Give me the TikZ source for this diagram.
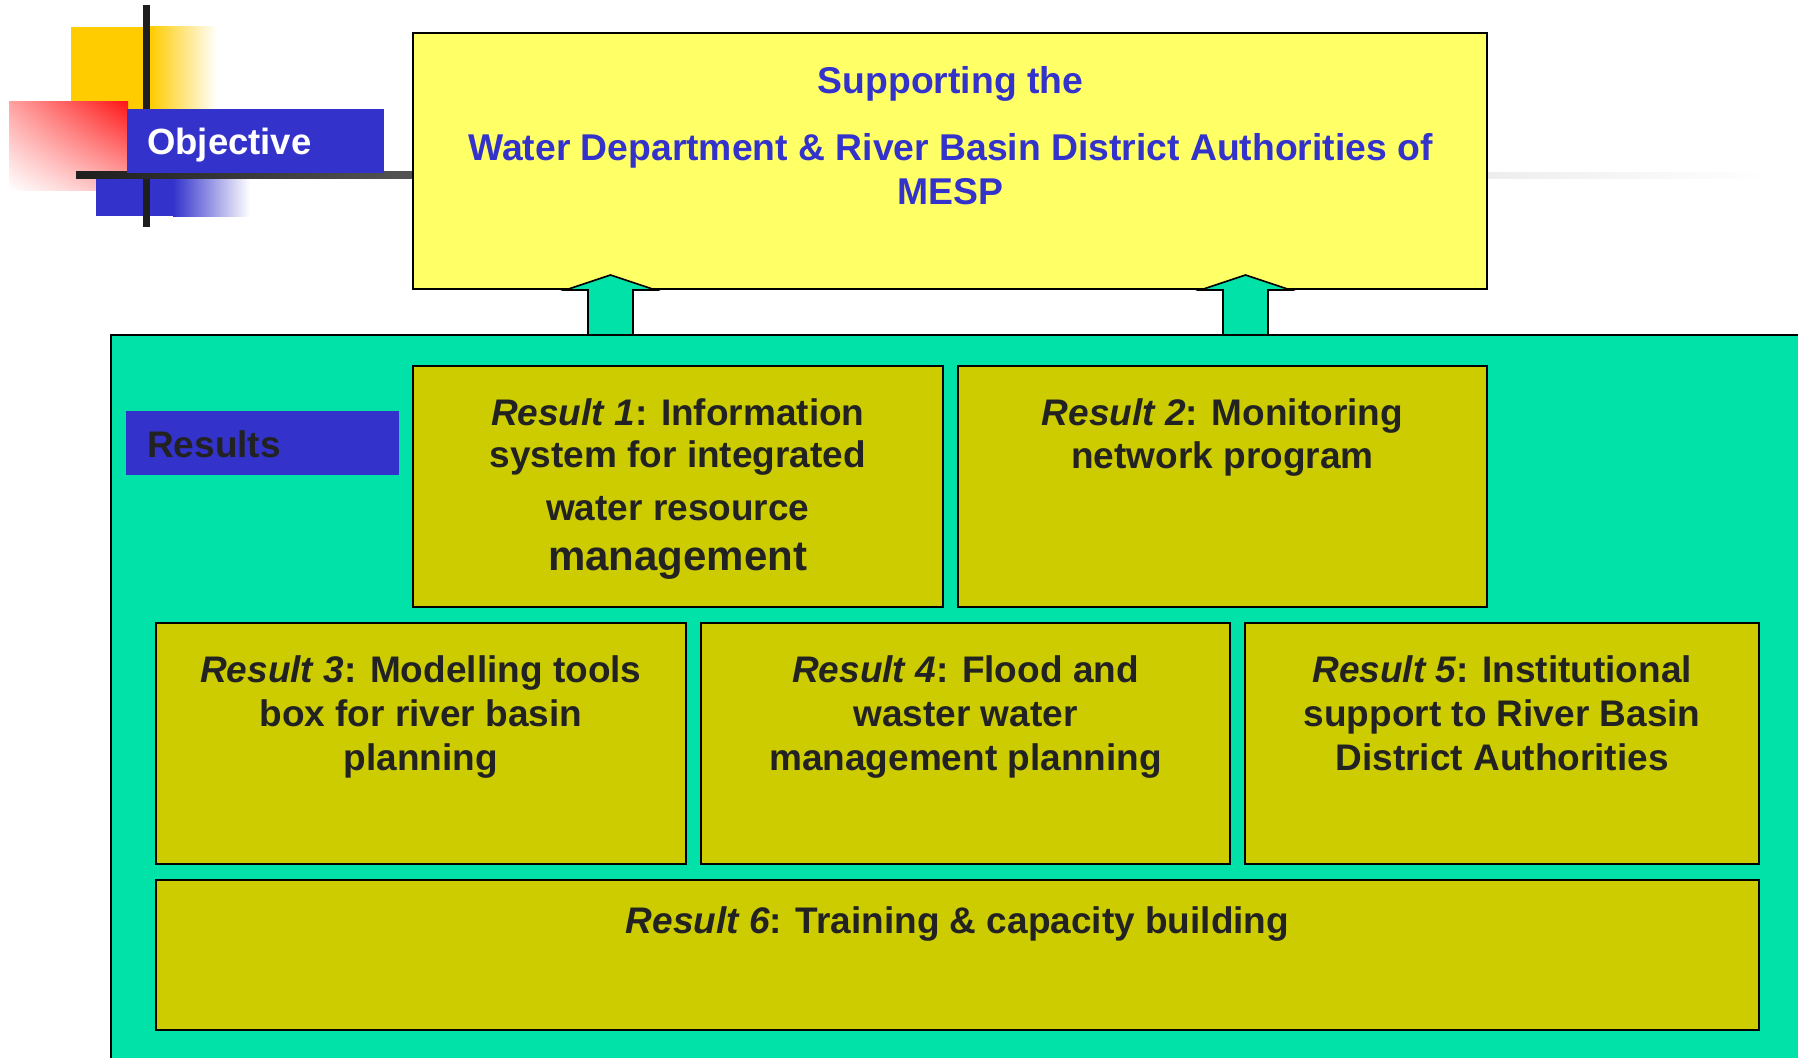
\documentclass[tikz,border=0pt]{standalone}
\usepackage{fontspec}
\setmainfont{Liberation Sans}
\usetikzlibrary{shadings}
\definecolor{tealbg}{RGB}{0,226,168}
\definecolor{olivebox}{RGB}{204,204,0}
\definecolor{paleyellow}{RGB}{255,255,102}
\definecolor{royal}{RGB}{51,51,204}
\definecolor{txtdark}{RGB}{34,34,34}
\definecolor{decoyellow}{RGB}{255,204,0}
\definecolor{decored}{RGB}{255,20,20}
\definecolor{linedark}{RGB}{30,30,30}
\newcommand{\resnum}[1]{{\itshape Result #1}}
\tikzset{
  rbox/.style={draw=black, line width=2pt, fill=olivebox, inner sep=0, outer sep=0},
  txt/.style={inner sep=0, outer sep=0, align=center, text=txtdark, font=\bfseries\fontsize{37}{44}\selectfont},
  ttl/.style={inner sep=0, outer sep=0, align=center, text=royal, font=\bfseries\fontsize{37.3}{43.5}\selectfont},
  blockarrow/.style={draw=black, line width=1.6pt, fill=tealbg, line join=miter},
}
\begin{document}
\begin{tikzpicture}[x=1pt, y=-1pt]
\useasboundingbox (0,0) rectangle (1798,1057);
\clip (0,0) rectangle (1798,1057);
\fill[white] (0,0) rectangle (1798,1057);

% decoration
\fill[decoyellow] (71,27) rectangle (150,172);
\shade[left color=decoyellow, right color=white] (150,27) rectangle (217,172);
\shade[upper right=decored, lower left=white, upper left=decored!40!white, lower right=decored!32!white] (9,101) rectangle (128,190);
\fill[royal] (96,173) rectangle (173,216);
\shade[left color=royal, right color=white] (173,173) rectangle (250,216);
\fill[linedark] (143,5) rectangle (150,227);
\shade[left color=linedark, right color=black!67] (76,171) rectangle (413,178);
\shade[left color=black!7, right color=white] (1488,172) rectangle (1770,178);
\node[fill=royal, inner sep=0, outer sep=0, minimum width=257pt, minimum height=64pt, anchor=north west] (obj) at (127,109) {};
\node[anchor=base west, inner sep=0, text=white, font=\bfseries\fontsize{36.5}{44}\selectfont] (objt) at (147,154) {Objective};

% objective box
\node[draw=black, line width=2pt, fill=paleyellow, inner sep=0, outer sep=0, minimum width=1074.3pt, minimum height=256pt] (goal) at (950.15,161.3) {};
\node[ttl, anchor=base] (goal1) at (950.5,93.5) {Supporting the};
\node[ttl, anchor=base] (goal2) at (950.5,204) {Water Department \& River Basin District Authorities of\\MESP};

% results container
\node[draw=black, line width=2pt, fill=tealbg, inner sep=0, outer sep=0, minimum width=1700pt, minimum height=740pt, anchor=north west] (res) at (111,335) {};
\node[fill=royal, inner sep=0, outer sep=0, minimum width=273pt, minimum height=64pt, anchor=north west] (reslab) at (126,411) {};
\node[anchor=base west, inner sep=0, text=txtdark, font=\bfseries\fontsize{37}{44}\selectfont] (reslabt) at (147,457) {Results};

% arrows
\coordinate (a1) at (610.5,335);
\coordinate (a2) at (1245.5,335);
\draw[blockarrow] (a1) ++(-22.5,0) -- ++(0,-45) -- ++(-22.5,0) -- ++(45,-15) -- ++(45,15) -- ++(-22.5,0) -- ++(0,45) -- cycle;
\draw[blockarrow] (a2) ++(-22.5,0) -- ++(0,-45) -- ++(-22.5,0) -- ++(45,-15) -- ++(45,15) -- ++(-22.5,0) -- ++(0,45) -- cycle;

% result boxes
\node[rbox, minimum width=529.6pt, minimum height=240.8pt] (r1) at (677.8,486.2) {};
\node[rbox, minimum width=529.8pt, minimum height=240.8pt] (r2) at (1222.4,486.2) {};
\node[rbox, minimum width=529.7pt, minimum height=240.9pt] (r3) at (420.85,743.05) {};
\node[rbox, minimum width=529.8pt, minimum height=240.9pt] (r4) at (965.5,743.05) {};
\node[rbox, minimum width=513.7pt, minimum height=240.9pt] (r5) at (1502.15,743.05) {};
\node[rbox, minimum width=1603pt, minimum height=150.2pt] (r6) at (957.5,954.6) {};

% texts (multi-line nodes: base = baseline of last line)
\node[txt, anchor=base] (r1t) at (677.8,570) {\resnum{1}: Information\\[-1.6pt]system for integrated\\[8.6pt]water resource\\[5.7pt]{\fontsize{42}{44}\selectfont management}};
\node[txt, anchor=base] (r2t) at (1222.4,468) {\resnum{2}: Monitoring\\[-1.6pt]network program};
\node[txt, anchor=base] (r3t) at (420.85,770) {\resnum{3}: Modelling tools\\box for river basin\\planning};
\node[txt, anchor=base] (r4t) at (965.5,770) {\resnum{4}: Flood and\\waster water\\management planning};
\node[txt, anchor=base] (r5t) at (1502.15,770) {\resnum{5}: Institutional\\support to River Basin\\District Authorities};
\node[txt, anchor=base] (r6t) at (957.5,933.5) {\resnum{6}: Training \& capacity building};
\end{tikzpicture}
\end{document}
